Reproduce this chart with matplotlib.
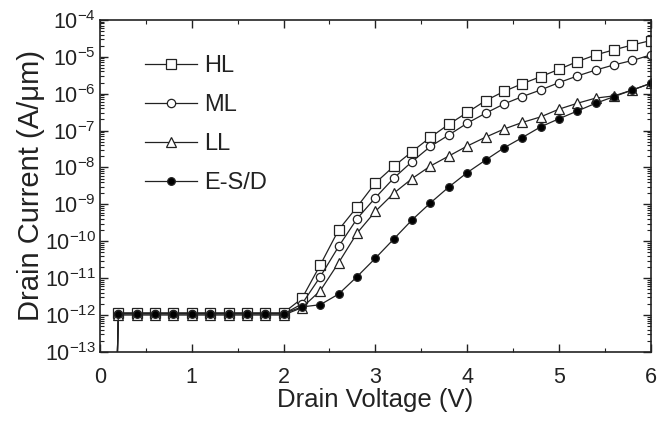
import numpy as np
import matplotlib
matplotlib.use("Agg")
import matplotlib.pyplot as plt
from matplotlib.ticker import LogLocator, MultipleLocator, NullFormatter

plt.rcParams['font.family'] = ['Liberation Sans', 'DejaVu Sans']
plt.rcParams['mathtext.fontset'] = 'custom'
plt.rcParams['mathtext.rm'] = 'Liberation Sans'
plt.rcParams['mathtext.it'] = 'Liberation Sans'

# Drain voltage (V)
vd = [0.2, 0.4, 0.6, 0.8, 1.0, 1.2, 1.4, 1.6, 1.8, 2.0,
      2.2, 2.4, 2.6, 2.8, 3.0, 3.2, 3.4, 3.6, 3.8, 4.0,
      4.2, 4.4, 4.6, 4.8, 5.0, 5.2, 5.4, 5.6, 5.8, 6.0]

# log10 of drain current (A/um)
log_hl = [-11.94]*10 + [-11.55, -10.64, -9.69, -9.07, -8.42, -7.97, -7.57, -7.18, -6.83, -6.51,
                         -6.19, -5.94, -5.73, -5.54, -5.34, -5.13, -4.95, -4.81, -4.68, -4.56]
log_ml = [-11.97]*10 + [-11.70, -10.96, -10.14, -9.39, -8.82, -8.29, -7.84, -7.43, -7.12, -6.80,
                         -6.53, -6.28, -6.08, -5.90, -5.70, -5.52, -5.36, -5.22, -5.10, -4.95]
log_ll = [-12.00]*10 + [-11.80, -11.34, -10.58, -9.78, -9.19, -8.70, -8.30, -7.96, -7.69, -7.42,
                         -7.18, -6.96, -6.78, -6.63, -6.42, -6.26, -6.12, -6.06, -5.90, -5.72]
log_esd = [-11.96]*10 + [-11.78, -11.72, -11.43, -10.96, -10.46, -9.94, -9.42, -8.96, -8.53, -8.14,
                          -7.80, -7.47, -7.19, -6.90, -6.68, -6.47, -6.26, -6.08, -5.90, -5.72]

# starting point of the sweep (current below the axis floor)
v_start = 0.18
log_start = -14.0

labels = ['HL', 'ML', 'LL', 'E-S/D']
series = [log_hl, log_ml, log_ll, log_esd]
markers = ['s', 'o', '^', 'o']
faces = ['white', 'white', 'white', 'black']
msizes = [6.5, 6, 6.5, 5.5]

fig = plt.figure(figsize=(6.58, 4.23), dpi=100)
fig.patch.set_facecolor('white')
ax = fig.add_axes([0.152, 0.168, 0.837, 0.785])
ax.set_facecolor('white')

lc = '#222222'
for lab, s, m, fc, ms in zip(labels, series, markers, faces, msizes):
    x = [v_start] + vd
    y = 10.0 ** np.array([log_start] + s)
    ax.plot(x, y, color=lc, lw=0.9, marker=m, markersize=ms,
            markerfacecolor=fc, markeredgecolor=lc, markeredgewidth=0.9,
            markevery=list(range(1, len(x))), label=lab)

ax.set_yscale('log')
ax.set_xlim(0, 6)
ax.set_ylim(1e-13, 1e-4)

ax.xaxis.set_major_locator(MultipleLocator(1))
ax.xaxis.set_minor_locator(MultipleLocator(0.5))
ax.yaxis.set_major_locator(LogLocator(base=10, numticks=20))
ax.yaxis.set_minor_locator(LogLocator(base=10, subs=np.arange(2, 10), numticks=20))
ax.yaxis.set_minor_formatter(NullFormatter())

ax.tick_params(which='both', direction='in', top=True, right=True, color=lc)
ax.tick_params(which='major', length=6, width=1.0, labelsize=15.5, colors=lc)
ax.tick_params(which='minor', length=3, width=0.8)
ax.tick_params(axis='x', which='major', pad=11)
ax.tick_params(axis='y', which='major', pad=3)

for sp in ax.spines.values():
    sp.set_linewidth(1.2)
    sp.set_color(lc)

ax.set_xlabel('Drain Voltage (V)', fontsize=18.5, color=lc, labelpad=0)
ax.set_ylabel('Drain Current (A/μm)', fontsize=21, color=lc, labelpad=0)

leg = ax.legend(loc='upper left', bbox_to_anchor=(0.065, 0.923), frameon=False,
                fontsize=17, handlelength=2.2, handletextpad=0.3, labelspacing=0.72,
                borderaxespad=0)
for t in leg.get_texts():
    t.set_color(lc)

fig.savefig('out.png', dpi=100)
